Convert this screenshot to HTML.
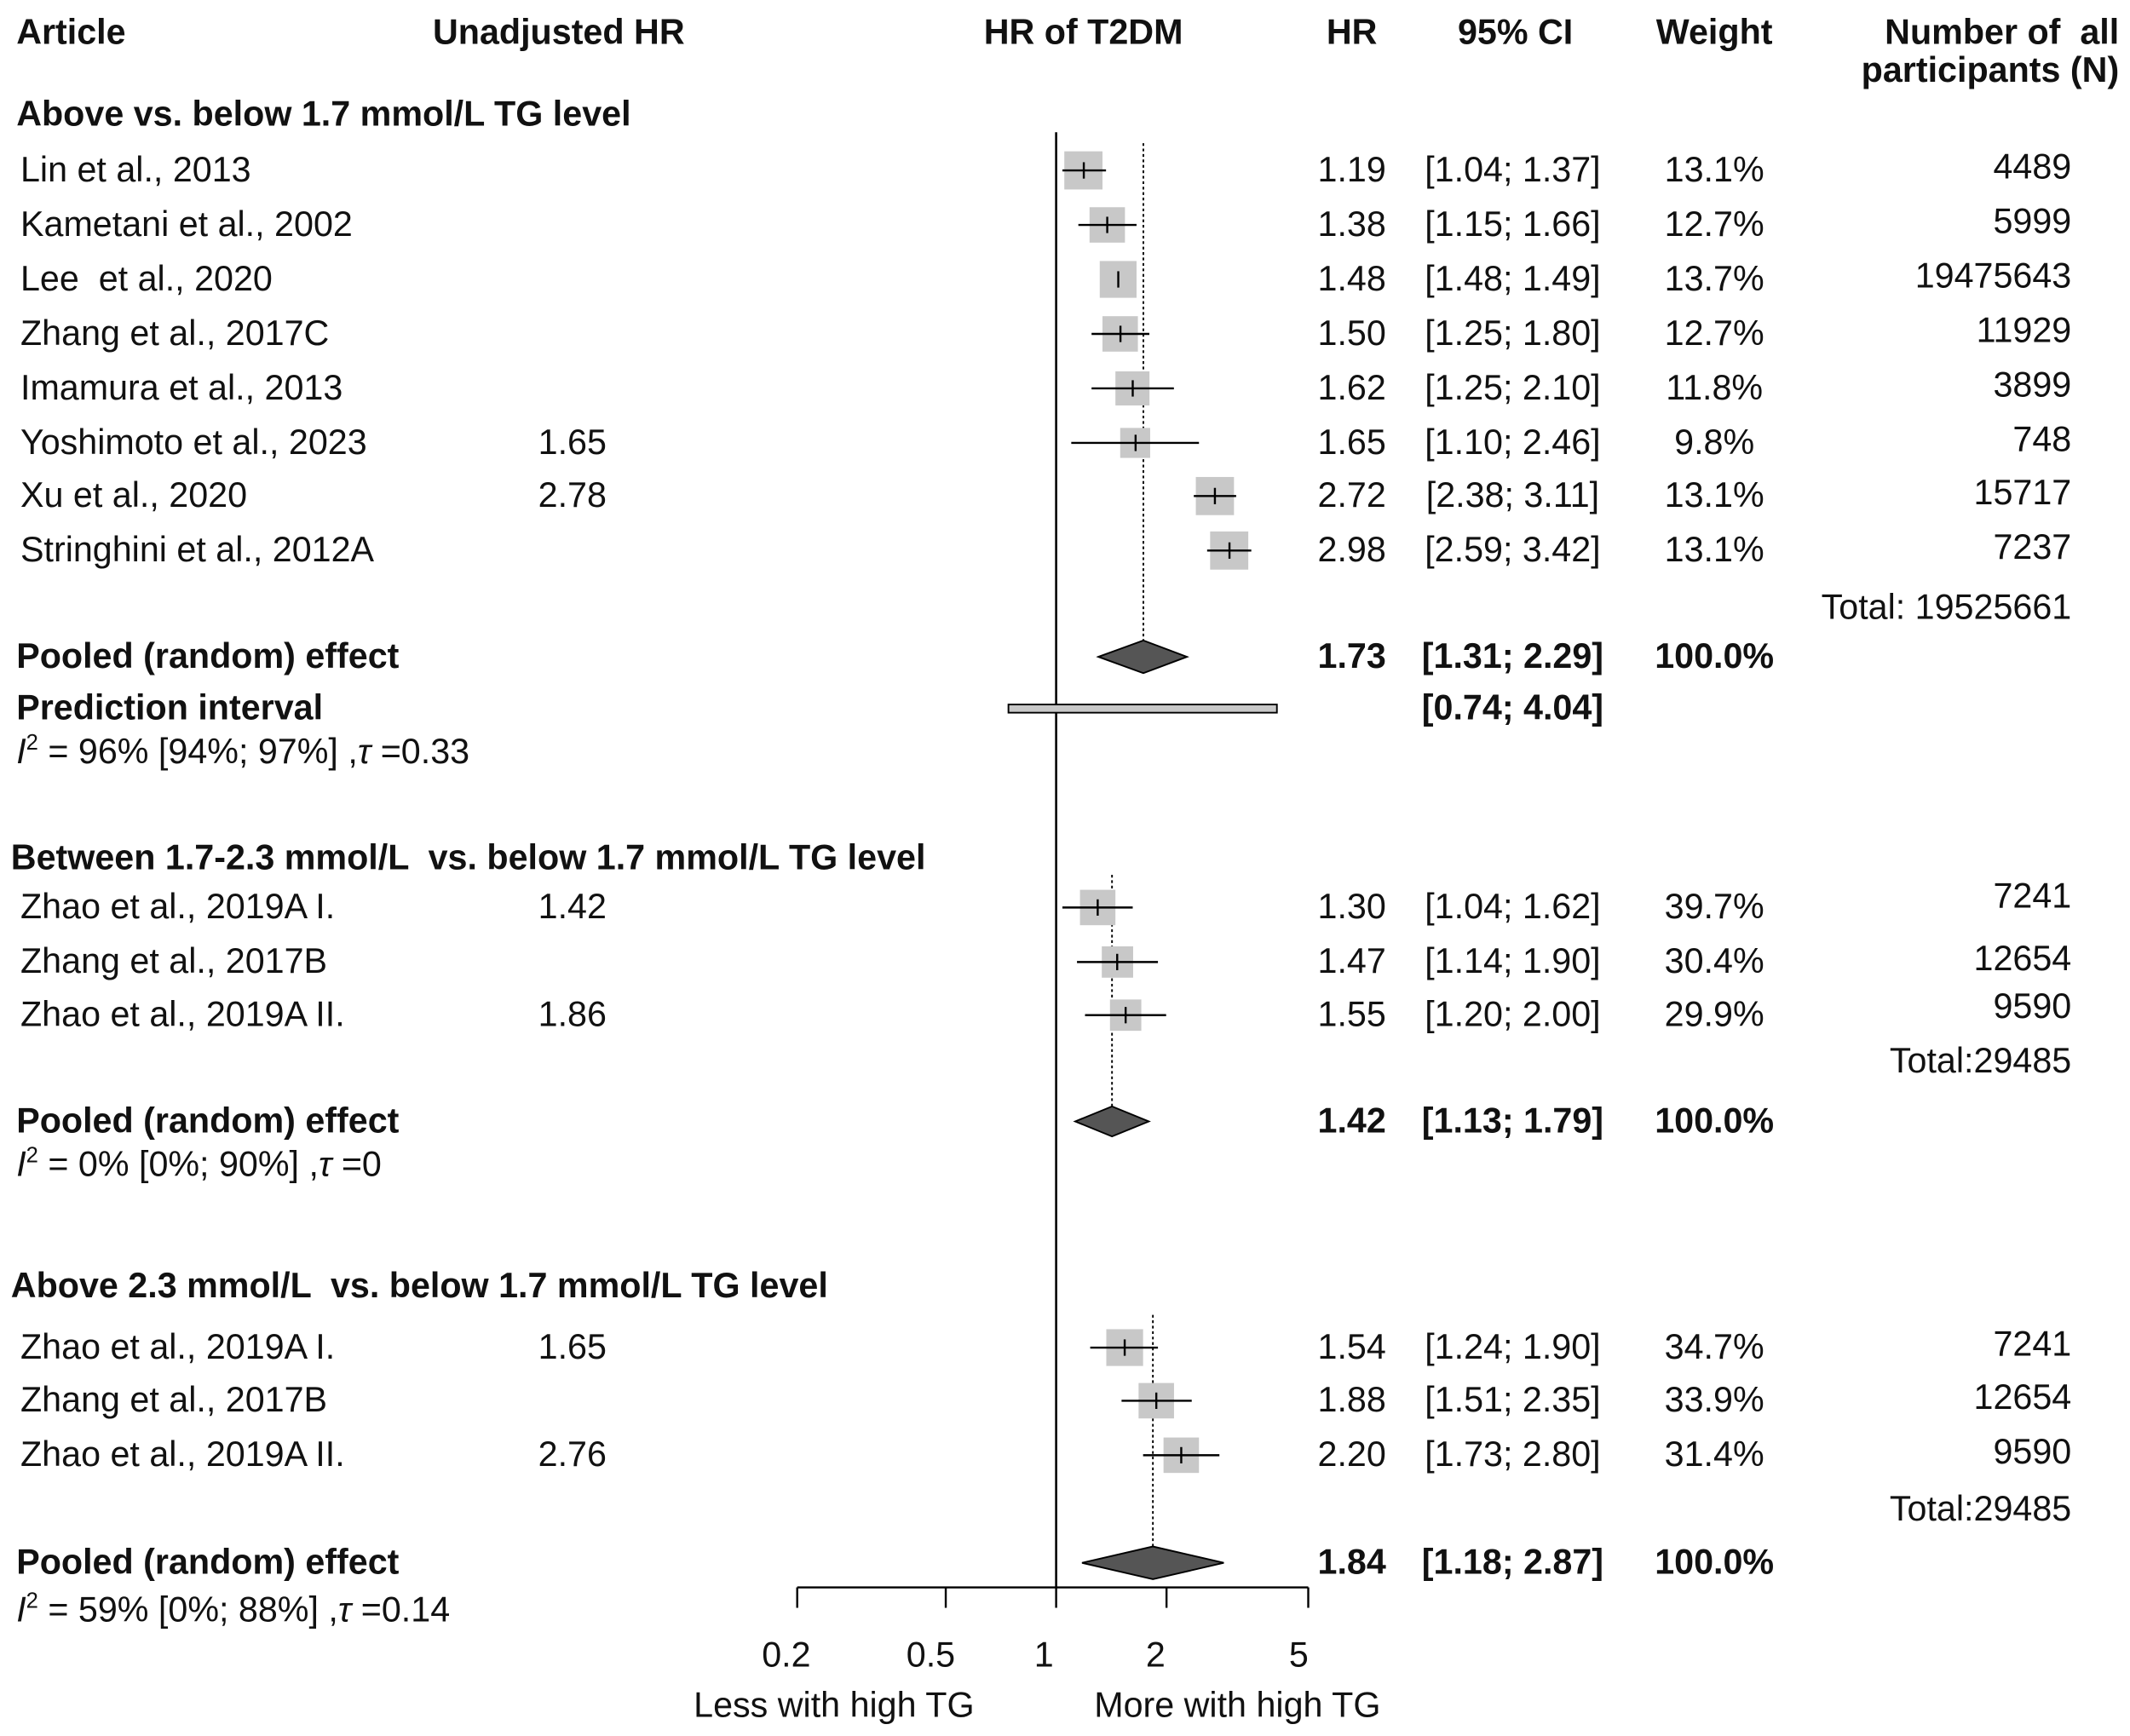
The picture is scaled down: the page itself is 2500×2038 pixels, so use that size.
<!DOCTYPE html>
<html><head><meta charset="utf-8"><style>html,body{margin:0;padding:0;background:#fff}svg{display:block}text{font-family:"Liberation Sans",Arial,sans-serif;font-size:25.8px;fill:#111;white-space:pre}.b{font-weight:bold}.m{text-anchor:middle}.e{text-anchor:end}</style></head><body>
<svg width="2500" height="2038" viewBox="0 0 1563 1274" xmlns="http://www.w3.org/2000/svg">
<rect width="1563" height="1274" fill="#fff"/>
<text class="b" x="12" y="32">Article</text>
<text class="b m" x="410" y="32">Unadjusted HR</text>
<text class="b m" x="795" y="32">HR of T2DM</text>
<text class="b m" x="992" y="32">HR</text>
<text class="b m" x="1112" y="32">95% CI</text>
<text class="b m" x="1258" y="32">Weight</text>
<text class="b e" x="1555" y="32">Number of  all</text>
<text class="b e" x="1555" y="60">participants (N)</text>

<line x1="775" y1="97" x2="775" y2="1165" stroke="#000" stroke-width="1.6"/>
<line x1="839" y1="105" x2="839" y2="470" stroke="#000" stroke-width="1.2" stroke-dasharray="2,2"/>
<line x1="816" y1="642" x2="816" y2="815" stroke="#000" stroke-width="1.2" stroke-dasharray="2,2"/>
<line x1="846" y1="965" x2="846" y2="1138" stroke="#000" stroke-width="1.2" stroke-dasharray="2,2"/>

<text class="b" x="12" y="92">Above vs. below 1.7 mmol/L TG level</text>
<g fill="#c8c8c8">
<rect x="781" y="111" width="28" height="28"/>
<rect x="799.5" y="152" width="26" height="26"/>
<rect x="807" y="191.5" width="27" height="27"/>
<rect x="809" y="232" width="26" height="26"/>
<rect x="818.5" y="272.5" width="25" height="25"/>
<rect x="822" y="314" width="22" height="22"/>
<rect x="877.5" y="350" width="28" height="28"/>
<rect x="888" y="390" width="28" height="28"/>
<rect x="792.5" y="653" width="26" height="26"/>
<rect x="808.5" y="694.5" width="23" height="23"/>
<rect x="814.5" y="733.5" width="23" height="23"/>
<rect x="811.8" y="975.5" width="27" height="27"/>
<rect x="835.5" y="1015" width="26" height="26"/>
<rect x="853.8" y="1055" width="26" height="26"/>
</g>
<g stroke="#000" stroke-width="1.5">
<line x1="779.6" y1="125" x2="811.6" y2="125"/><line x1="795.3" y1="119" x2="795.3" y2="131"/>
<line x1="791.3" y1="165" x2="834" y2="165"/><line x1="812.5" y1="159" x2="812.5" y2="171"/>
<line x1="820.6" y1="199" x2="820.6" y2="211"/>
<line x1="801" y1="245" x2="843.4" y2="245"/><line x1="822.2" y1="239" x2="822.2" y2="251"/>
<line x1="801" y1="285" x2="861.4" y2="285"/><line x1="831.2" y1="279" x2="831.2" y2="291"/>
<line x1="786.1" y1="325" x2="879.8" y2="325"/><line x1="833.3" y1="319" x2="833.3" y2="331"/>
<line x1="876" y1="364" x2="907.1" y2="364"/><line x1="891.5" y1="358" x2="891.5" y2="370"/>
<line x1="885.8" y1="404" x2="918.2" y2="404"/><line x1="902.2" y1="398" x2="902.2" y2="410"/>
<line x1="779.6" y1="666" x2="831.2" y2="666"/><line x1="805.5" y1="660" x2="805.5" y2="672"/>
<line x1="790.3" y1="706" x2="849.7" y2="706"/><line x1="819.8" y1="700" x2="819.8" y2="712"/>
<line x1="796.2" y1="745" x2="855.7" y2="745"/><line x1="826" y1="739" x2="826" y2="751"/>
<line x1="800" y1="989" x2="849.7" y2="989"/><line x1="825.3" y1="983" x2="825.3" y2="995"/>
<line x1="823" y1="1028" x2="874.5" y2="1028"/><line x1="848.5" y1="1022" x2="848.5" y2="1034"/>
<line x1="838.8" y1="1068" x2="894.8" y2="1068"/><line x1="866.8" y1="1062" x2="866.8" y2="1074"/>
</g>
<g fill="#555" stroke="#000" stroke-width="1.2">
<polygon points="806,482 839,470 871,482 839,494"/>
<polygon points="789,823 816,812 843,823 816,834"/>
<polygon points="794,1147 846,1135 898,1147 846,1159"/>
</g>
<rect x="740" y="517" width="197" height="6" fill="#c8c8c8" stroke="#000" stroke-width="1.2"/>

<text x="15" y="133">Lin et al., 2013</text>
<text x="15" y="173">Kametani et al., 2002</text>
<text x="15" y="213">Lee  et al., 2020</text>
<text x="15" y="253">Zhang et al., 2017C</text>
<text x="15" y="293">Imamura et al., 2013</text>
<text x="15" y="333">Yoshimoto et al., 2023</text>
<text x="15" y="372">Xu et al., 2020</text>
<text x="15" y="412">Stringhini et al., 2012A</text>
<text class="m" x="420" y="333">1.65</text>
<text class="m" x="420" y="372">2.78</text>
<text class="m" x="992" y="133">1.19</text><text class="m" x="1110" y="133">[1.04; 1.37]</text><text class="m" x="1258" y="133">13.1%</text>
<text class="m" x="992" y="173">1.38</text><text class="m" x="1110" y="173">[1.15; 1.66]</text><text class="m" x="1258" y="173">12.7%</text>
<text class="m" x="992" y="213">1.48</text><text class="m" x="1110" y="213">[1.48; 1.49]</text><text class="m" x="1258" y="213">13.7%</text>
<text class="m" x="992" y="253">1.50</text><text class="m" x="1110" y="253">[1.25; 1.80]</text><text class="m" x="1258" y="253">12.7%</text>
<text class="m" x="992" y="293">1.62</text><text class="m" x="1110" y="293">[1.25; 2.10]</text><text class="m" x="1258" y="293">11.8%</text>
<text class="m" x="992" y="333">1.65</text><text class="m" x="1110" y="333">[1.10; 2.46]</text><text class="m" x="1258" y="333">9.8%</text>
<text class="m" x="992" y="372">2.72</text><text class="m" x="1110" y="372">[2.38; 3.11]</text><text class="m" x="1258" y="372">13.1%</text>
<text class="m" x="992" y="412">2.98</text><text class="m" x="1110" y="412">[2.59; 3.42]</text><text class="m" x="1258" y="412">13.1%</text>
<text class="e" x="1520" y="131">4489</text>
<text class="e" x="1520" y="171">5999</text>
<text class="e" x="1520" y="211">19475643</text>
<text class="e" x="1520" y="251">11929</text>
<text class="e" x="1520" y="291">3899</text>
<text class="e" x="1520" y="331">748</text>
<text class="e" x="1520" y="370">15717</text>
<text class="e" x="1520" y="410">7237</text>
<text class="e" x="1520" y="454">Total: 19525661</text>
<text class="b" x="12" y="490">Pooled (random) effect</text>
<text class="b m" x="992" y="490">1.73</text><text class="b m" x="1110" y="490">[1.31; 2.29]</text><text class="b m" x="1258" y="490">100.0%</text>
<text class="b" x="12" y="528">Prediction interval</text>
<text class="b m" x="1110" y="528">[0.74; 4.04]</text>
<text x="12" y="560"><tspan font-style="italic">I</tspan><tspan font-size="16" dy="-10">2</tspan><tspan dy="10"> = 96% [94%; 97%] ,</tspan><tspan font-style="italic">τ</tspan> =0.33</text>

<text class="b" x="8" y="638">Between 1.7-2.3 mmol/L  vs. below 1.7 mmol/L TG level</text>
<text x="15" y="674">Zhao et al., 2019A I.</text>
<text x="15" y="714">Zhang et al., 2017B</text>
<text x="15" y="753">Zhao et al., 2019A II.</text>
<text class="m" x="420" y="674">1.42</text>
<text class="m" x="420" y="753">1.86</text>
<text class="m" x="992" y="674">1.30</text><text class="m" x="1110" y="674">[1.04; 1.62]</text><text class="m" x="1258" y="674">39.7%</text>
<text class="m" x="992" y="714">1.47</text><text class="m" x="1110" y="714">[1.14; 1.90]</text><text class="m" x="1258" y="714">30.4%</text>
<text class="m" x="992" y="753">1.55</text><text class="m" x="1110" y="753">[1.20; 2.00]</text><text class="m" x="1258" y="753">29.9%</text>
<text class="e" x="1520" y="666">7241</text>
<text class="e" x="1520" y="712">12654</text>
<text class="e" x="1520" y="747">9590</text>
<text class="e" x="1520" y="787">Total:29485</text>
<text class="b" x="12" y="831">Pooled (random) effect</text>
<text class="b m" x="992" y="831">1.42</text><text class="b m" x="1110" y="831">[1.13; 1.79]</text><text class="b m" x="1258" y="831">100.0%</text>
<text x="12" y="863"><tspan font-style="italic">I</tspan><tspan font-size="16" dy="-10">2</tspan><tspan dy="10"> = 0% [0%; 90%] ,</tspan><tspan font-style="italic">τ</tspan> =0</text>

<text class="b" x="8" y="952">Above 2.3 mmol/L  vs. below 1.7 mmol/L TG level</text>
<text x="15" y="997">Zhao et al., 2019A I.</text>
<text x="15" y="1036">Zhang et al., 2017B</text>
<text x="15" y="1076">Zhao et al., 2019A II.</text>
<text class="m" x="420" y="997">1.65</text>
<text class="m" x="420" y="1076">2.76</text>
<text class="m" x="992" y="997">1.54</text><text class="m" x="1110" y="997">[1.24; 1.90]</text><text class="m" x="1258" y="997">34.7%</text>
<text class="m" x="992" y="1036">1.88</text><text class="m" x="1110" y="1036">[1.51; 2.35]</text><text class="m" x="1258" y="1036">33.9%</text>
<text class="m" x="992" y="1076">2.20</text><text class="m" x="1110" y="1076">[1.73; 2.80]</text><text class="m" x="1258" y="1076">31.4%</text>
<text class="e" x="1520" y="995">7241</text>
<text class="e" x="1520" y="1034">12654</text>
<text class="e" x="1520" y="1074">9590</text>
<text class="e" x="1520" y="1116">Total:29485</text>
<text class="b" x="12" y="1155">Pooled (random) effect</text>
<text class="b m" x="992" y="1155">1.84</text><text class="b m" x="1110" y="1155">[1.18; 2.87]</text><text class="b m" x="1258" y="1155">100.0%</text>
<text x="12" y="1190"><tspan font-style="italic">I</tspan><tspan font-size="16" dy="-10">2</tspan><tspan dy="10"> = 59% [0%; 88%] ,</tspan><tspan font-style="italic">τ</tspan> =0.14</text>

<g stroke="#000" stroke-width="1.5">
<line x1="585" y1="1165" x2="960" y2="1165"/>
<line x1="585" y1="1165" x2="585" y2="1180"/>
<line x1="694" y1="1165" x2="694" y2="1180"/>
<line x1="775" y1="1165" x2="775" y2="1180"/>
<line x1="856" y1="1165" x2="856" y2="1180"/>
<line x1="960" y1="1165" x2="960" y2="1180"/>
</g>
<text class="m" x="577" y="1223">0.2</text>
<text class="m" x="683" y="1223">0.5</text>
<text class="m" x="766" y="1223">1</text>
<text class="m" x="848" y="1223">2</text>
<text class="m" x="953" y="1223">5</text>
<text class="m" x="612" y="1260">Less with high TG</text>
<text class="m" x="908" y="1260">More with high TG</text>
</svg>
</body></html>
